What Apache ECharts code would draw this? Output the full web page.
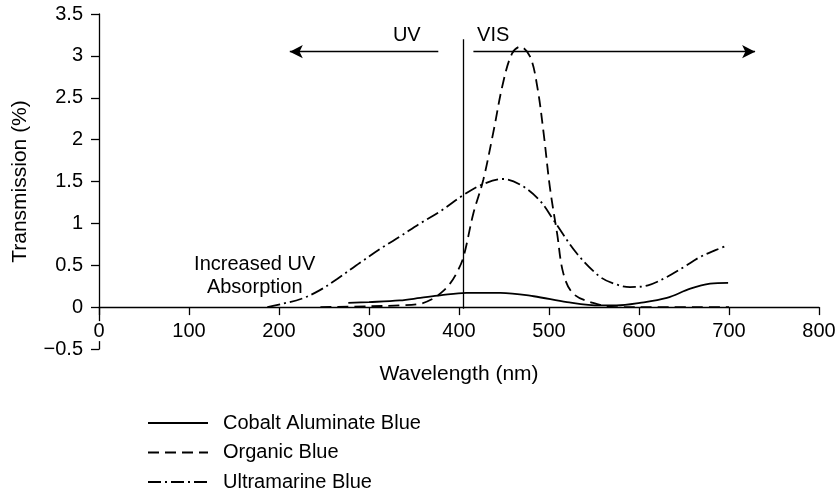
<!DOCTYPE html>
<html>
<head>
<meta charset="utf-8">
<script src="https://cdn.jsdelivr.net/npm/echarts@6/dist/echarts.min.js"></script>
<style>html,body{margin:0;padding:0;background:#fff;}#c{width:839px;height:493px;}</style>
</head>
<body>
<div id="c"></div>
<script>
// ---- data (wavelength nm, transmission %) ----
const seriesNames = ['Cobalt Aluminate Blue', 'Organic Blue', 'Ultramarine Blue'];
const cobalt = [[277,0.05],[300,0.06],[334,0.08],[357,0.11],[379,0.14],[408,0.17],[446,0.17],[483,0.13],[520,0.06],[557,0.02],[575,0.02],[601,0.05],[631,0.11],[657,0.22],[679,0.28],[699,0.29]];
const organic = [[246,0],[300,0.01],[334,0.02],[357,0.04],[371,0.1],[380,0.17],[390,0.28],[398,0.42],[405,0.6],[416,1.12],[427,1.52],[438,2.08],[449,2.68],[459,3.03],[468,3.11],[479,2.99],[487,2.63],[494,2.08],[501,1.43],[509,0.88],[516,0.4],[527,0.16],[549,0.05],[575,0.0],[620,0.0],[700,0.0]];
const ultramarine = [[187,0],[204,0.04],[225,0.1],[245,0.2],[265,0.34],[290,0.53],[316,0.72],[334,0.84],[357,1.0],[380,1.15],[405,1.34],[425,1.46],[449,1.53],[470,1.45],[490,1.27],[505,1.04],[531,0.64],[557,0.36],[575,0.27],[590,0.24],[610,0.26],[631,0.36],[650,0.48],[668,0.6],[685,0.68],[699,0.74]];
// ---- annotations ----
const dividerLine = [[405, 3.2], [405, -0.02]];
const uvArrow = [[377, 3.05], [212, 3.05]];
const visArrow = [[416, 3.05], [729, 3.05]];
const textNotes = [
  { text: 'UV', at: [342, 3.24] },
  { text: 'VIS', at: [438, 3.24] },
  { text: 'Increased UV\nAbsorption', at: [173, 0.37] }
];
// ---- axes ----
const xMin = 0, xMax = 800, xStep = 100;
const yMin = -0.5, yMax = 3.5, yStep = 0.5;

const FONT = 'Liberation Sans, Arial, Helvetica, sans-serif';
const chart = echarts.init(document.getElementById('c'), null, { renderer: 'canvas' });

function curve(name, data, type) {
  return {
    name, type: 'line', data, smooth: 0.35, symbol: 'none', z: 3,
    lineStyle: { color: '#000', width: 1.8, type },
    itemStyle: { color: '#000' },
    emphasis: { disabled: true }
  };
}

// pixel offset of the zero line above the grid bottom
const GRID_TOP = 14, GRID_BOTTOM_PX = 349;
const zeroOffset = (GRID_BOTTOM_PX - GRID_TOP) * (0 - yMin) / (yMax - yMin);

chart.setOption({
  animation: false,
  backgroundColor: '#fff',
  textStyle: { fontFamily: FONT },
  grid: { left: 99, right: 20, top: GRID_TOP, bottom: 493 - GRID_BOTTOM_PX, containLabel: false },
  xAxis: {
    type: 'value', min: xMin, max: xMax, interval: xStep, z: 5,
    position: 'bottom', offset: -zeroOffset,
    name: 'Wavelength (nm)', nameLocation: 'middle', nameGap: 57,
    nameTextStyle: { fontSize: 21, color: '#000', fontFamily: FONT },
    axisLine: { onZero: false, lineStyle: { color: '#000', width: 1.3 } },
    axisTick: { show: true, inside: false, length: 8, lineStyle: { color: '#000', width: 1.3 } },
    axisLabel: { fontSize: 20, color: '#000', margin: 14, fontFamily: FONT, backgroundColor: '#fff' },
    splitLine: { show: false }
  },
  yAxis: {
    type: 'value', min: yMin, max: yMax, interval: yStep, z: 1,
    name: 'Transmission (%)', nameLocation: 'middle', nameGap: 68, nameRotate: 90,
    nameTextStyle: { fontSize: 21, color: '#000', fontFamily: FONT },
    axisLine: { show: true, lineStyle: { color: '#000', width: 1.3 } },
    axisTick: { show: true, length: 8, lineStyle: { color: '#000', width: 1.3 } },
    axisLabel: {
      fontSize: 20, color: '#000', margin: 16, fontFamily: FONT,
      formatter: v => (v < 0 ? '\u2212' + Math.abs(v) : String(v))
    },
    splitLine: { show: false }
  },
  legend: {
    data: seriesNames, orient: 'vertical', left: 147, top: 413, padding: 0,
    itemWidth: 60, itemHeight: 14, itemGap: 9.5,
    itemStyle: { opacity: 0 },
    textStyle: { fontSize: 20, color: '#000', fontFamily: FONT, padding: [0, 0, 0, 10] },
    selectedMode: false
  },
  series: [
    curve(seriesNames[0], cobalt, 'solid'),
    curve(seriesNames[1], organic, [11, 6]),
    curve(seriesNames[2], ultramarine, [13, 4, 2, 4]),
    {
      name: 'annotations', type: 'line', data: [], symbol: 'none', silent: true, z: 4,
      markLine: {
        silent: true, animation: false,
        symbol: ['none', 'arrow'], symbolSize: [10, 13],
        label: { show: false },
        lineStyle: { color: '#000', width: 1.3, type: 'solid' },
        emphasis: { disabled: true },
        data: [
          [{ coord: dividerLine[0], symbol: 'none' }, { coord: dividerLine[1], symbol: 'none' }],
          [{ coord: uvArrow[0] }, { coord: uvArrow[1] }],
          [{ coord: visArrow[0] }, { coord: visArrow[1] }]
        ]
      },
      markPoint: {
        silent: true, animation: false,
        symbol: 'circle', symbolSize: 0,
        itemStyle: { color: 'rgba(0,0,0,0)' },
        label: {
          show: true, position: 'inside', color: '#000', fontSize: 20, lineHeight: 23,
          fontFamily: FONT, align: 'center', verticalAlign: 'middle',
          formatter: p => p.name
        },
        data: textNotes.map(t => ({ name: t.text, coord: t.at }))
      }
    }
  ]
});
</script>
</body>
</html>
